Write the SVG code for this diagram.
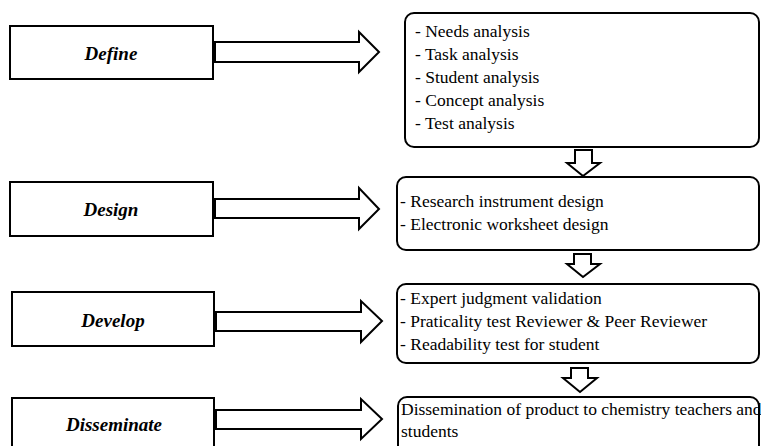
<svg xmlns="http://www.w3.org/2000/svg" width="761" height="446" viewBox="0 0 761 446">
<style>
.stage{fill:#fff;stroke:#000;stroke-width:2}
.box{fill:#fff;stroke:#000;stroke-width:2}
.arr{fill:#fff;stroke:#000;stroke-width:2;stroke-linejoin:miter}
.lbl{font-family:"Liberation Serif",serif;font-weight:bold;font-style:italic;font-size:19px;fill:#000;text-anchor:middle}
.txt{font-family:"Liberation Serif",serif;font-size:17.5px;fill:#000}
</style>
<rect width="761" height="446" fill="#fff"/>
<g id="define">
<rect class="stage" x="10" y="26" width="203" height="53"/>
<text class="lbl" x="111" y="60">Define</text>
</g>
<g id="design">
<rect class="stage" x="10" y="182" width="203" height="54"/>
<text class="lbl" x="111" y="216">Design</text>
</g>
<g id="develop">
<rect class="stage" x="12" y="292" width="202" height="54"/>
<text class="lbl" x="113" y="327">Develop</text>
</g>
<g id="disseminate">
<rect class="stage" x="12" y="398" width="202" height="60"/>
<text class="lbl" x="114" y="431">Disseminate</text>
</g>
<g id="define-tasks">
<rect class="box" x="405" y="13" width="354" height="134" rx="9"/>
<text class="txt" x="415" y="37">- Needs analysis</text>
<text class="txt" x="415" y="60">- Task analysis</text>
<text class="txt" x="415" y="83">- Student analysis</text>
<text class="txt" x="415" y="106">- Concept analysis</text>
<text class="txt" x="415" y="129">- Test analysis</text>
</g>
<g id="design-tasks">
<rect class="box" x="397" y="177" width="362" height="73" rx="9"/>
<text class="txt" x="400" y="207">- Research instrument design</text>
<text class="txt" x="400" y="230">- Electronic worksheet design</text>
</g>
<g id="develop-tasks">
<rect class="box" x="397" y="284" width="362" height="79" rx="9"/>
<text class="txt" x="400" y="304">- Expert judgment validation</text>
<text class="txt" x="400" y="327">- Praticality test Reviewer &amp; Peer Reviewer</text>
<text class="txt" x="400" y="350">- Readability test for student</text>
</g>
<g id="disseminate-tasks">
<rect class="box" x="398" y="397" width="361" height="60" rx="9"/>
<text class="txt" x="401" y="415">Dissemination of product to chemistry teachers and</text>
<text class="txt" x="401" y="437">students</text>
</g>
<g id="connectors">
<polygon class="arr" points="215,42 359,42 359,32 379,52 359,72 359,62 215,62"/>
<polygon class="arr" points="215,199 359,199 359,188 379,209 359,229 359,218 215,218"/>
<polygon class="arr" points="216,312 361,312 361,301 382,321 361,342 361,331 216,331"/>
<polygon class="arr" points="216,410 361,410 361,399 382,419 361,439 361,429 216,429"/>
<polygon class="arr" points="575,150 592,150 592,163 600,163 583,176 567,163 575,163"/>
<polygon class="arr" points="574,254 591,254 591,264 600,264 583,277 567,264 574,264"/>
<polygon class="arr" points="571,368 588,368 588,378 597,378 580,392 563,378 571,378"/>
</g>
</svg>
